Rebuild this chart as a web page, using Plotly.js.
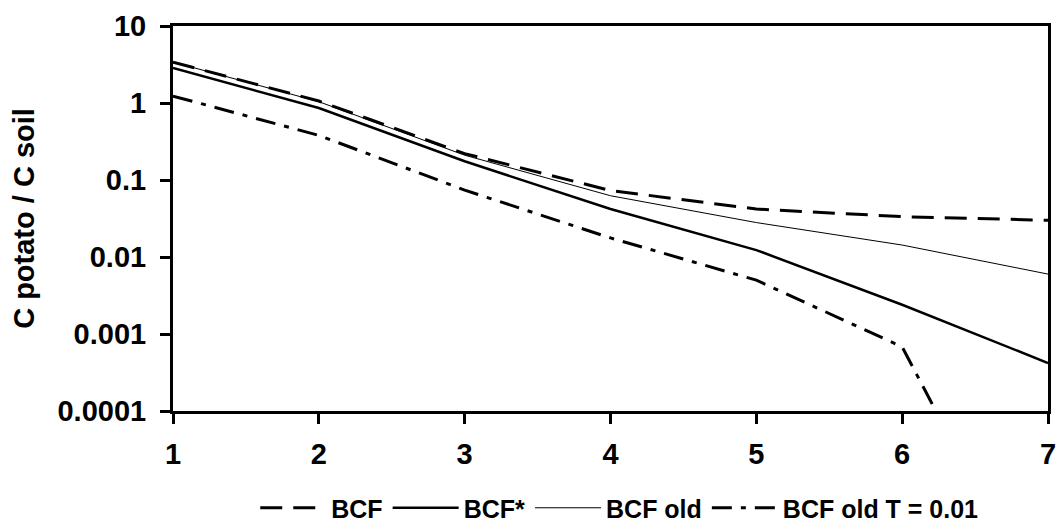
<!DOCTYPE html>
<html>
<head>
<meta charset="utf-8">
<script src="https://cdn.plot.ly/plotly-3.0.1.min.js"></script>
<style>html,body{margin:0;padding:0;background:#fff;}#chart{width:1056px;height:529px;}</style>
</head>
<body>
<div id="chart"></div>
<script>
const xValues = [1, 2, 3, 4, 5, 6, 7];
const bcf = [3.4, 1.06, 0.22, 0.073, 0.042, 0.0334, 0.030];
const bcfStar = [2.85, 0.86, 0.175, 0.042, 0.0123, 0.0024, 0.00042];
const bcfOld = [3.4, 1.04, 0.21, 0.0625, 0.028, 0.0143, 0.006];
const bcfOldT = [1.23, 0.38, 0.074, 0.0177, 0.0050, 0.00068, 1.7e-7];
const seriesNames = ["BCF", "BCF*", "BCF old", "BCF old T = 0.01"];
const yTickVals = [0.0001, 0.001, 0.01, 0.1, 1, 10];
const yTickText = ["0.0001", "0.001", "0.01", "0.1", "1", "10"];
const xTickVals = [1, 2, 3, 4, 5, 6, 7];

const fontFam = "Liberation Sans, Arial, sans-serif";

const traces = [
  {x: xValues, y: bcf, name: seriesNames[0], mode: "lines",
   line: {color: "#000", width: 3, dash: "22px,11px"}},
  {x: xValues, y: bcfStar, name: seriesNames[1], mode: "lines",
   line: {color: "#000", width: 2.5}},
  {x: xValues, y: bcfOld, name: seriesNames[2], mode: "lines",
   line: {color: "#000", width: 1}},
  {x: xValues, y: bcfOldT, name: seriesNames[3], mode: "lines",
   line: {color: "#000", width: 3, dash: "20px,9px,5px,9px"}}
];

const layout = {
  width: 1056, height: 529,
  margin: {l: 173, r: 8, t: 26, b: 118, autoexpand: false},
  paper_bgcolor: "#fff", plot_bgcolor: "#fff",
  font: {family: fontFam, color: "#000", size: 29, weight: 700},
  showlegend: true,
  legend: {
    orientation: "h", x: 0.51, xanchor: "center", y: -0.252, yanchor: "middle",
    font: {family: fontFam, size: 25, color: "#000", weight: 700},
    itemwidth: 66, bgcolor: "rgba(0,0,0,0)"
  },
  xaxis: {
    range: [1, 7], tickvals: xTickVals, ticks: "outside", ticklen: 10, tickwidth: 3,
    tickcolor: "#000", showline: true, linewidth: 3, linecolor: "#000", mirror: true,
    showgrid: false, zeroline: false, ticklabelstandoff: 5, ticklabeloverflow: "allow",
    tickfont: {family: fontFam, size: 29, color: "#000", weight: 700}
  },
  yaxis: {
    type: "log", range: [-4, 1], tickvals: yTickVals, ticktext: yTickText,
    ticks: "outside", ticklen: 10, tickwidth: 3, tickcolor: "#000",
    showline: true, linewidth: 3, linecolor: "#000", mirror: true,
    showgrid: false, zeroline: false, ticklabelstandoff: 8, ticklabeloverflow: "allow",
    tickfont: {family: fontFam, size: 29, color: "#000", weight: 700},
    title: {text: "C potato / C soil", standoff: 15,
            font: {family: fontFam, size: 29, color: "#000", weight: 700}}
  }
};

Plotly.newPlot("chart", traces, layout, {displayModeBar: false, staticPlot: true});
</script>
</body>
</html>
